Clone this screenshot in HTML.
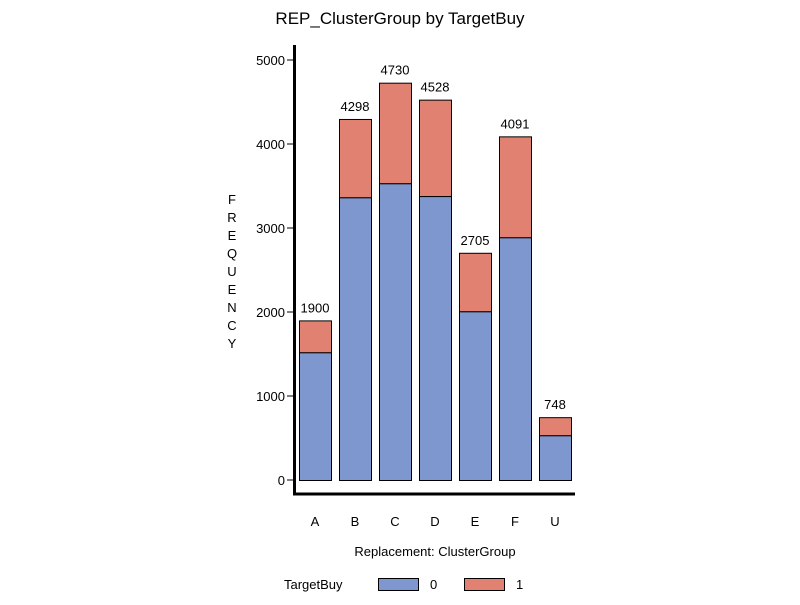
<!DOCTYPE html>
<html><head><meta charset="utf-8"><style>
body{margin:0;background:#fff;}
svg text{font-family:"Liberation Sans",sans-serif;}
</style></head><body>
<svg width="800" height="600" viewBox="0 0 800 600">
<text x="400" y="24" text-anchor="middle" font-size="17">REP_ClusterGroup by TargetBuy</text>
<g id="plot"></g>
<line x1="294.5" y1="45" x2="294.5" y2="495" stroke="#000" stroke-width="3"/>
<line x1="293" y1="494" x2="575" y2="494" stroke="#000" stroke-width="3"/>
<text x="232" y="204" font-size="13" text-anchor="middle">
<tspan x="232" dy="0">F</tspan><tspan x="232" dy="18">R</tspan><tspan x="232" dy="18">E</tspan><tspan x="232" dy="18">Q</tspan><tspan x="232" dy="18">U</tspan><tspan x="232" dy="18">E</tspan><tspan x="232" dy="18">N</tspan><tspan x="232" dy="18">C</tspan><tspan x="232" dy="18">Y</tspan></text>
<text x="435" y="556" font-size="13" text-anchor="middle">Replacement: ClusterGroup</text>
<g>
<text x="284" y="589" font-size="13">TargetBuy</text>
<rect x="378.5" y="578.5" width="40" height="12" fill="#7f97cf" stroke="#000"/>
<text x="430" y="589" font-size="13">0</text>
<rect x="464.5" y="578.5" width="40" height="12" fill="#e08172" stroke="#000"/>
<text x="516" y="589" font-size="13">1</text>
</g>
</svg>
<script>
const categories=["A","B","C","D","E","F","U"];
const series0=[1520,3365,3532,3380,2008,2889,532];
const totals=[1900,4298,4730,4528,2705,4091,748];
const yTicks=[0,1000,2000,3000,4000,5000];
const NS="http://www.w3.org/2000/svg";
const g=document.getElementById('plot');
function y(v){return 480-v*0.084;}
function x(i){return 299+i*40;}
function mk(t,a){const e=document.createElementNS(NS,t);for(const k in a)e.setAttribute(k,a[k]);g.appendChild(e);return e;}
yTicks.forEach(v=>{
 const l=mk('line',{x1:287,x2:294,y1:y(v),y2:y(v),stroke:'#000'});
 
 
 const t=mk('text',{x:285,y:y(v)+5,'font-size':13,'text-anchor':'end'});
 t.textContent=v;
 
 
});
categories.forEach((c,i)=>{
 const v0=series0[i],tot=totals[i];
 const r1=mk('rect',{x:x(i)+0.5,y:y(tot)+0.5,width:32,height:y(v0)-y(tot),fill:'#e08172',stroke:'#000'});
 
 
 const r0=mk('rect',{x:x(i)+0.5,y:y(v0)+0.5,width:32,height:y(0)-y(v0),fill:'#7f97cf',stroke:'#000'});
 
 
 const t=mk('text',{x:x(i)+16,y:y(tot)-8,'font-size':13,'text-anchor':'middle'});
 t.textContent=tot;
 
 
 const xl=mk('text',{x:x(i)+16,y:526,'font-size':13,'text-anchor':'middle'});
 xl.textContent=c;
 
 
});
</script>
</body></html>
